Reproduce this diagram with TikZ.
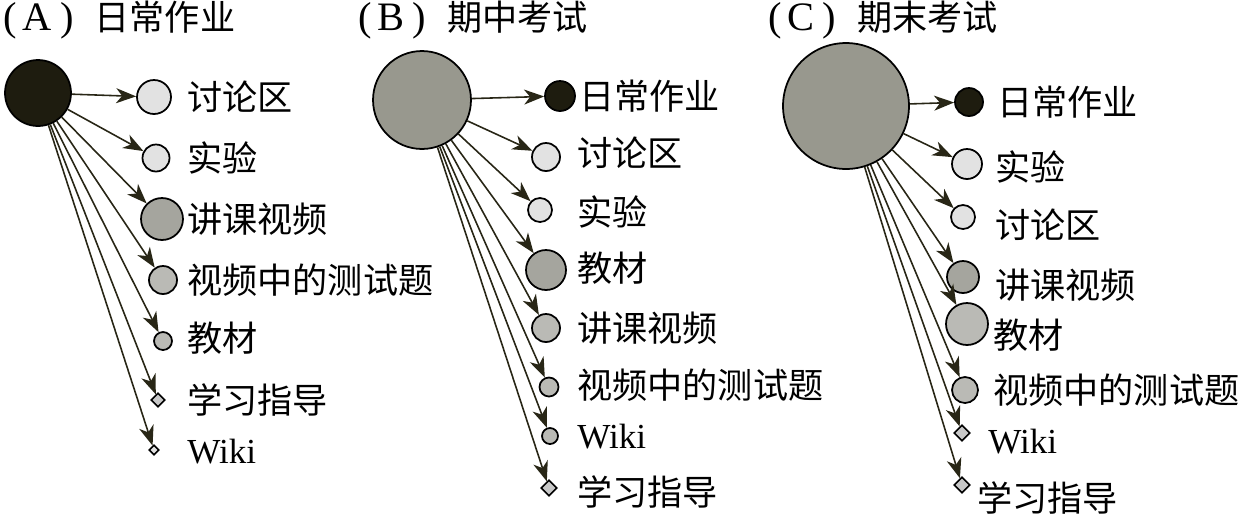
\documentclass[tikz,border=0pt]{standalone}
\usepackage{fontspec}
\setmainfont{Liberation Serif}
\newfontfamily\cjk{Noto Sans CJK SC}
\usepackage{tikz}
\usetikzlibrary{arrows.meta}
\usetikzlibrary{shapes.geometric}

\definecolor{arrowc}{RGB}{40,38,22}
\definecolor{darkfill}{RGB}{30,28,15}
\definecolor{bigfill}{RGB}{152,152,142}
\definecolor{lightfill}{RGB}{226,226,226}
\definecolor{midfill}{RGB}{165,165,158}
\definecolor{grayfill}{RGB}{186,186,181}
\definecolor{diafill}{RGB}{200,200,200}

\tikzset{dot/.style={circle, draw=black, line width=1pt, inner sep=0pt, minimum size=#1*0.04cm}}
\tikzset{dia/.style={diamond, draw=black, line width=0.9pt, inner sep=0pt, minimum size=#1*0.02cm}}
\tikzset{lab/.style={anchor=west, inner sep=0pt, font=\cjk\fontsize{20}{24}\selectfont}}
\tikzset{ttl/.style={anchor=west, inner sep=0pt, font=\fontsize{20}{24}\selectfont}}
\tikzstyle{link} = [draw=arrowc, line width=0.9pt, -{Stealth[length=4mm,width=3mm,inset=1.2mm]}]

\newcommand{\ttltext}[2]{{\fontsize{23}{24}\selectfont(\hspace{0.15em}#1\hspace{0.2em})}\hspace{0.6em}{\cjk #2}}

\begin{document}
\begin{tikzpicture}[x=0.02cm, y=-0.02cm]
\useasboundingbox (0,0) rectangle (1255,515);

% (A)
\node[ttl] (ta) at (3,20) {\ttltext{A}{日常作业}};
\node[dot=33, fill=darkfill] (a0) at (38,93) {};
\node[dot=17, fill=lightfill] (a1) at (154,97) {};
\node[dot=13.5, fill=lightfill] (a2) at (156,158) {};
\node[dot=21, fill=midfill] (a3) at (162,219) {};
\node[dot=14, fill=grayfill] (a4) at (163,280) {};
\node[dot=9, fill=grayfill] (a5) at (163,341) {};
\node[dia=14, fill=diafill] (a6) at (158,400) {};
\node[dia=10, fill=lightfill] (a7) at (154,450) {};
\node[lab] (a1t) at (187,97) {讨论区};
\node[lab] (a2t) at (187,158) {实验};
\node[lab] (a3t) at (187,219) {讲课视频};
\node[lab] (a4t) at (187,280) {视频中的测试题};
\node[lab] (a5t) at (187,338) {教材};
\node[lab] (a6t) at (187,400) {学习指导};
\node[lab] (a7t) at (187,452) {\rmfamily Wiki};
\foreach \i in {1,...,7}
  \draw[link] (a0) -- (a\i);

% (B)
\node[ttl] (tb) at (358,20) {\ttltext{B}{期中考试}};
\node[dot=49, fill=bigfill] (b0) at (422,100) {};
\node[dot=15, fill=darkfill] (b1) at (560,96) {};
\node[dot=14, fill=lightfill] (b2) at (546,157) {};
\node[dot=12, fill=lightfill] (b3) at (540,210) {};
\node[dot=20, fill=midfill] (b4) at (546,270) {};
\node[dot=14, fill=grayfill] (b5) at (546,328) {};
\node[dot=9.5, fill=grayfill] (b6) at (549,387) {};
\node[dot=8, fill=grayfill] (b7) at (550,436) {};
\node[dia=16, fill=diafill] (b8) at (549,488) {};
\node[lab] (b1t) at (579,96) {日常作业};
\node[lab] (b2t) at (577,153) {讨论区};
\node[lab] (b3t) at (577,212) {实验};
\node[lab] (b4t) at (577,268) {教材};
\node[lab] (b5t) at (577,328) {讲课视频};
\node[lab] (b6t) at (577,385) {视频中的测试题};
\node[lab] (b7t) at (577,437) {\rmfamily Wiki};
\node[lab] (b8t) at (577,492) {学习指导};
\foreach \i in {1,...,8}
  \draw[link] (b0) -- (b\i);

% (C)
\node[ttl] (tc) at (768,20) {\ttltext{C}{期末考试}};
\node[dot=63, fill=bigfill] (c0) at (846,106) {};
\node[dot=14, fill=darkfill] (c1) at (969,102) {};
\node[dot=15, fill=lightfill] (c2) at (967,164) {};
\node[dot=12, fill=lightfill] (c3) at (963,217) {};
\node[dot=16, fill=midfill] (c4) at (963,277) {};
\node[dot=21, fill=grayfill] (c5) at (967,324) {};
\node[dot=13, fill=grayfill] (c6) at (965,390) {};
\node[dia=16, fill=diafill] (c7) at (962,433) {};
\node[dia=16, fill=diafill] (c8) at (962,485) {};
\node[lab] (c1t) at (997,102) {日常作业};
\node[lab] (c2t) at (995,167) {实验};
\node[lab] (c3t) at (995,225) {讨论区};
\node[lab] (c4t) at (995,285) {讲课视频};
\node[lab] (c5t) at (993,335) {教材};
\node[lab] (c6t) at (993,390) {视频中的测试题};
\node[lab] (c7t) at (988,442) {\rmfamily Wiki};
\node[lab] (c8t) at (977,498) {学习指导};
\foreach \i in {1,...,8}
  \draw[link] (c0) -- (c\i);
\end{tikzpicture}
\end{document}
